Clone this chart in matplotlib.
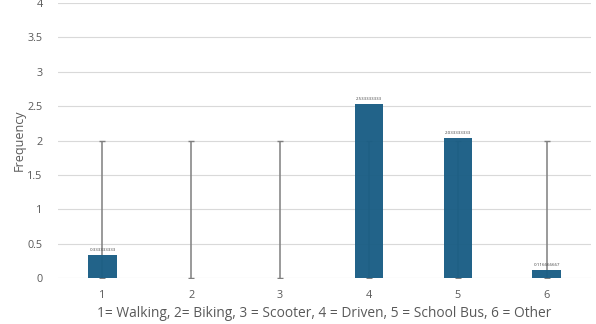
import numpy as np
import matplotlib.pyplot as plt

plt.rcParams['font.family'] = ['Open Sans', 'DejaVu Sans']

categories = ["1", "2", "3", "4", "5", "6"]
frequency = [0.333333333, 0.0, 0.0, 2.533333333, 2.033333333, 0.116666667]
err_top = [2, 2, 2, 2, 2, 2]
xlabel = "1= Walking, 2= Biking, 3 = Scooter, 4 = Driven, 5 = School Bus, 6 = Other"

bar_color = "#1b5e85"
grey = "#595959"

fig = plt.figure(figsize=(5.96, 3.24), dpi=100)
ax = fig.add_axes([0.0973, 0.142, 0.8943, 0.8487])

xpos = np.arange(len(categories))

# error lines drawn from 0 up to err_top
ax.vlines(xpos, 0, err_top, color="#7f7f7f", lw=1.1, zorder=2)
ax.plot(xpos, err_top, ls="none", marker="_", ms=4, color="#7f7f7f", zorder=2)
ax.plot(xpos, np.zeros(len(xpos)), ls="none", marker="_", ms=4, color="#7f7f7f", zorder=2)

ax.bar(xpos, frequency, width=0.32, color=bar_color, zorder=3, alpha=0.97)

for x, v in zip(xpos, frequency):
    if v > 0:
        ax.text(x, v + 0.04, f"{v:.9f}", ha="center", va="bottom",
                fontsize=3.2, color="#404040", zorder=4)

ax.set_xlim(-0.5, 5.5)
ax.set_ylim(0, 4)
ax.set_yticks(np.arange(0, 4.01, 0.5))
ax.set_yticklabels(["0", "0.5", "1", "1.5", "2", "2.5", "3", "3.5", "4"])
ax.set_xticks(xpos)
ax.set_xticklabels(categories)
ax.tick_params(length=0, labelsize=7.8, colors=grey)
ax.tick_params(axis="x", pad=9)
ax.tick_params(axis="y", pad=11)
ax.grid(axis="y", color="#d9d9d9", lw=0.8, zorder=0)
for s in ax.spines.values():
    s.set_visible(False)

ax.set_xlabel(xlabel, fontsize=9.9, color=grey, labelpad=3)
ax.set_ylabel("Frequency", fontsize=9, color=grey, labelpad=1)

fig.savefig("out.png", dpi=100)
